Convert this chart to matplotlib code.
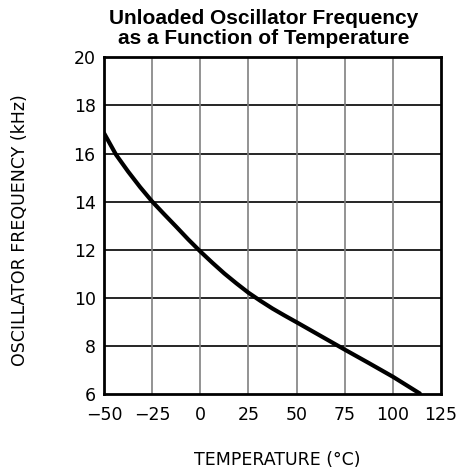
import matplotlib
matplotlib.use("Agg")
import matplotlib.pyplot as plt

# Datos
temperatura = [-50, -43.75, -37.5, -31.25, -25, -18.75, -12.5, -6.25, 0, 6.25,
               12.5, 18.75, 25, 31.25, 37.5, 43.75, 50, 62.5, 75, 87.5, 100, 114]
frecuencia = [16.85, 15.95, 15.25, 14.6, 14.0, 13.47, 12.95, 12.42, 11.92, 11.45,
              11.0, 10.59, 10.2, 9.86, 9.54, 9.25, 8.97, 8.4, 7.83, 7.27, 6.7, 6.0]

x_ticks = [-50, -25, 0, 25, 50, 75, 100, 125]
y_ticks = [6, 8, 10, 12, 14, 16, 18, 20]

fig = plt.figure(figsize=(4.61, 4.74), dpi=100)
ax = fig.add_axes([0.2256, 0.1698, 0.7310, 0.7089])

ax.plot(temperatura, frecuencia, color="black", linewidth=3,
        solid_capstyle="round", solid_joinstyle="round", zorder=3)

ax.set_xlim(-50, 125)
ax.set_ylim(6, 20)
ax.set_xticks(x_ticks)
ax.set_yticks(y_ticks)
ax.set_xticklabels([str(t).replace("-", "\u2212") for t in x_ticks])

# Rejilla: horizontales negras, verticales grises
for y in y_ticks[1:-1]:
    ax.axhline(y, color="black", linewidth=1.2, zorder=1)
for x in x_ticks[1:-1]:
    ax.axvline(x, color="#808080", linewidth=1.2, zorder=1)

for sp in ax.spines.values():
    sp.set_linewidth(2)
    sp.set_color("black")

ax.tick_params(length=0, labelsize=12.5, colors="black")
ax.tick_params(axis="x", pad=9)
ax.tick_params(axis="y", pad=6)

fig.text(0.571, 0.962, "Unloaded Oscillator Frequency", ha="center", va="center",
         fontsize=15, fontweight="bold", family="Liberation Sans")
fig.text(0.571, 0.919, "as a Function of Temperature", ha="center", va="center",
         fontsize=15, fontweight="bold", family="Liberation Sans")

fig.text(0.043, 0.515, "OSCILLATOR FREQUENCY (kHz)", rotation=90, ha="center", va="center",
         fontsize=12.5)
fig.text(0.601, 0.029, "TEMPERATURE (\u00b0C)", ha="center", va="center", fontsize=12.5)

fig.savefig("out.png", dpi=100)
